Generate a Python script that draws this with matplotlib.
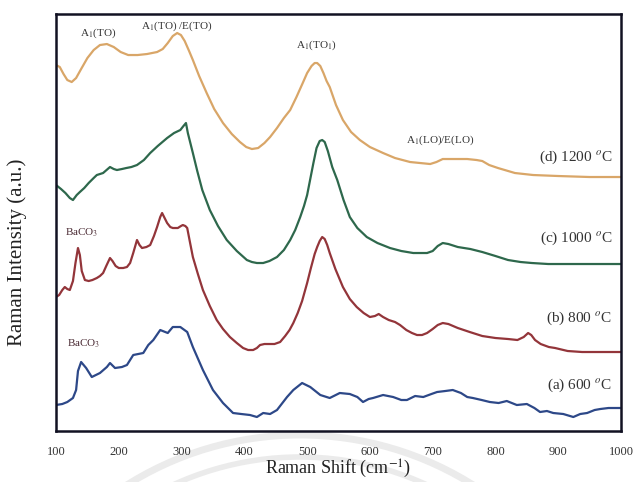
import numpy as np
import matplotlib.pyplot as plt
from matplotlib.patches import Arc

plt.rcParams['font.family'] = ['Liberation Serif', 'DejaVu Serif']
plt.rcParams['mathtext.fontset'] = 'stix'

# Raman shift (cm-1) and stacked intensity (a.u., offset already applied)
x_1200 = [100, 106, 112, 118, 125, 132, 140, 150, 160, 170, 181, 192, 203, 215, 230,
          245, 261, 270, 278, 286, 293, 299, 305, 312, 318, 328, 340, 352, 366, 380,
          393, 403, 412, 422, 432, 441, 452, 463, 473, 483, 493, 500, 507, 512, 516,
          521, 526, 531, 536, 546, 557, 570, 584, 600, 621, 640, 664, 680, 696, 706,
          716, 730, 755, 770, 779, 790, 804, 831, 860, 900, 950, 1000]
y_1200 = [366, 364, 357, 351, 349, 353, 362, 373, 381, 386, 387, 384, 379, 376, 376,
          377, 379, 382, 388, 395, 398, 396, 390, 380, 371, 355, 338, 322, 308, 297,
          289, 284, 282, 283, 288, 294, 303, 313, 321, 334, 348, 358, 365, 368, 368,
          365, 358, 350, 344, 326, 311, 299, 291, 284, 278, 273, 269, 268, 267, 269,
          272, 272, 272, 271, 270, 266, 263, 258, 256, 255, 254, 254]

x_1000 = [100, 108, 115, 122, 127, 133, 138, 145, 152, 160, 165, 175, 186, 192, 197,
          205, 212, 220, 229, 240, 250, 262, 277, 288, 298, 303, 307, 310, 314, 318,
          325, 333, 345, 358, 372, 388, 404, 412, 420, 430, 440, 452, 463, 473, 481,
          489, 495, 500, 505, 510, 515, 520, 524, 528, 533, 540, 548, 558, 568, 580,
          595, 612, 632, 650, 669, 680, 691, 700, 708, 716, 725, 740, 760, 779, 800,
          820, 840, 858, 884, 940, 1000]
y_1000 = [246, 242, 238, 233, 231, 236, 239, 243, 248, 253, 256, 258, 264, 262, 261,
          262, 263, 264, 266, 271, 278, 285, 293, 298, 301, 305, 308, 298, 288, 278,
          260, 241, 221, 205, 191, 180, 171, 169, 168, 168, 170, 174, 181, 191, 201,
          214, 225, 236, 252, 268, 283, 290, 291, 289, 280, 264, 251, 231, 214, 203,
          194, 188, 183, 180, 178, 178, 178, 180, 185, 188, 187, 184, 182, 179, 175,
          171, 169, 168, 167, 167, 167]

x_800 = [100, 105, 110, 114, 118, 122, 127, 131, 135, 138, 141, 146, 152, 158, 165,
         170, 175, 180, 186, 190, 195, 200, 207, 213, 218, 223, 229, 233, 237, 244,
         250, 256, 261, 266, 269, 273, 277, 282, 286, 290, 294, 299, 302, 306, 309,
         313, 318, 326, 334, 345, 356, 366, 377, 388, 398, 406, 414, 420, 425, 432,
         440, 448, 457, 465, 472, 478, 485, 492, 500, 506, 512, 516, 520, 524, 528,
         532, 536, 545, 557, 568, 579, 590, 600, 608, 614, 621, 630, 640, 648, 658,
         667, 675, 683, 691, 700, 708, 716, 725, 740, 759, 779, 800, 820, 835, 845,
         852, 857, 863, 872, 885, 895, 915, 938, 1000]
y_800 = [134, 136, 141, 144, 142, 141, 150, 168, 183, 176, 160, 151, 150, 151, 153,
         155, 158, 165, 173, 170, 165, 163, 163, 164, 168, 178, 191, 186, 183, 184,
         186, 195, 204, 214, 218, 213, 208, 204, 203, 203, 203, 205, 206, 205, 203,
         190, 174, 157, 141, 125, 111, 102, 94, 88, 83, 81, 81, 83, 86, 87,
         87, 87, 89, 95, 101, 108, 118, 130, 148, 163, 177, 184, 190, 194, 192,
         186, 178, 162, 144, 132, 124, 118, 114, 115, 117, 114, 111, 109, 106, 101,
         98, 96, 96, 98, 102, 106, 108, 107, 103, 99, 95, 93, 92, 91, 94,
         98, 96, 91, 87, 84, 83, 80, 79, 79]

x_600 = [100, 110, 118, 127, 132, 135, 140, 148, 157, 170, 181, 186, 194, 205, 213,
         223, 231, 239, 247, 255, 266, 274, 278, 286, 298, 309, 318, 334, 350, 366,
         382, 395, 409, 420, 430, 441, 452, 468, 478, 492, 505, 521, 536, 552, 568,
         580, 589, 598, 605, 621, 637, 650, 659, 672, 685, 698, 707, 720, 732, 745,
         755, 764, 778, 791, 805, 818, 834, 850, 862, 871, 882, 892, 908, 924, 935,
         946, 958, 967, 980, 998]
y_600 = [26, 27, 29, 33, 41, 60, 69, 63, 54, 58, 64, 68, 63, 64, 66,
         76, 77, 78, 86, 91, 101, 99, 98, 104, 104, 99, 84, 61, 41, 28,
         18, 17, 16, 14, 18, 17, 21, 34, 41, 48, 44, 36, 33, 38, 37,
         34, 29, 32, 33, 36, 34, 31, 31, 35, 34, 37, 39, 40, 41, 38,
         34, 33, 31, 29, 28, 30, 26, 27, 23, 19, 20, 18, 17, 14, 17,
         18, 21, 22, 23, 23]

series = [
    (x_600, y_600, '#2d4888', '(a) 600 $^{o}$C', 46),
    (x_800, y_800, '#93353a', '(b) 800 $^{o}$C', 113),
    (x_1000, y_1000, '#2e684c', '(c) 1000 $^{o}$C', 193),
    (x_1200, y_1200, '#d9a668', '(d) 1200 $^{o}$C', 274),
]

fig = plt.figure(figsize=(6.35, 4.82), dpi=100)
ax = fig.add_axes([0.0882, 0.1058, 0.8898, 0.8651])

for xs, ys, color, label, ly in series:
    ax.plot(xs, ys, color=color, lw=1.6, solid_joinstyle='round')
    ax.text(1000 - 14, ly, label, ha='right', va='center', fontsize=11,
            color='#333333')

# peak assignments
ax.text(167, 398, 'A$_1$(TO)', ha='center', va='center', fontsize=8, color='#333333')
ax.text(292, 405, 'A$_1$(TO) /E(TO)', ha='center', va='center', fontsize=8, color='#333333')
ax.text(514, 386, 'A$_1$(TO$_1$)', ha='center', va='center', fontsize=8, color='#333333')
ax.text(712, 291, 'A$_1$(LO)/E(LO)', ha='center', va='center', fontsize=8, color='#333333')
ax.text(141, 198, 'BaCO$_3$', ha='center', va='center', fontsize=8, color='#4a2a33')
ax.text(144, 87, 'BaCO$_3$', ha='center', va='center', fontsize=8, color='#4a2a33')

ax.set_xlim(100, 1000)
ax.set_ylim(0, 417)
ax.set_xticks(np.arange(100, 1001, 100))
ax.set_yticks([])
ax.tick_params(axis='x', length=0, pad=10.5, labelsize=9, labelcolor='#333333')
for s in ax.spines.values():
    s.set_linewidth(1.8)
    s.set_color('#111122')

fig.text(338 / 635, 1 - 469 / 482, 'Raman Shift (cm$^{-1}$)', ha='center',
         va='center', fontsize=13, color='#222222')
fig.text(17 / 635, 1 - 252 / 482, 'Raman Intensity (a.u.)', rotation=90,
         ha='center', va='center', fontsize=15, color='#222222')

# light grey arcs under the axis
for r, w in [(325, 5), (303, 4)]:
    fig.add_artist(Arc((300 / 635, 1 - 760 / 482), 2 * r / 635, 2 * r / 482,
                       theta1=30, theta2=150, transform=fig.transFigure,
                       color='#ebebeb', lw=w, zorder=-5))

fig.savefig('out.png', dpi=100)
